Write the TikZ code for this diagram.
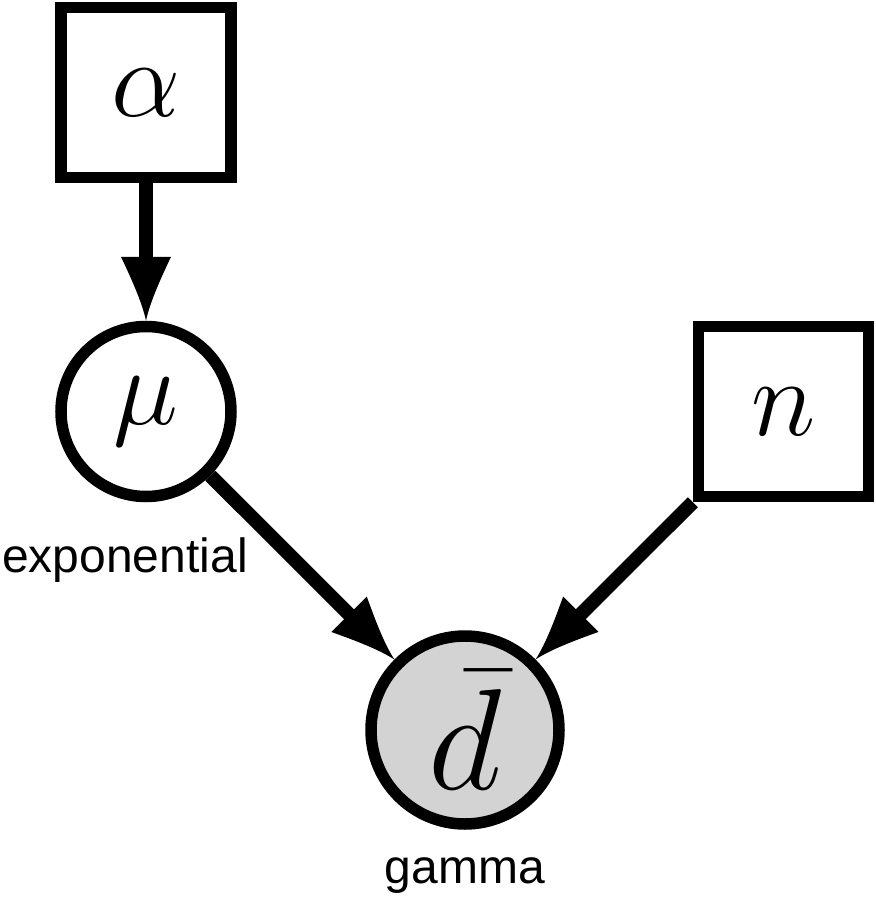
\RequirePackage{fix-cm}
\documentclass[tikz,border=0pt]{standalone}
\usepackage{fontspec}
\newfontfamily\lblfont{Liberation Sans}
\usetikzlibrary{arrows.meta}
\definecolor{obsgray}{RGB}{211,211,211}

% filled head with slightly hollow sides
\pgfdeclarearrow{
  name = Quill,
  parameters = {\the\pgfarrowlength,\the\pgfarrowwidth},
  setup code = {
    \pgfarrowssettipend{0pt}
    \pgfarrowssetlineend{-.6\pgfarrowlength}
    \pgfarrowssetvisualbackend{-\pgfarrowlength}
    \pgfarrowssetbackend{-\pgfarrowlength}
    \pgfarrowshullpoint{0pt}{0pt}
    \pgfarrowsupperhullpoint{-\pgfarrowlength}{.5\pgfarrowwidth}
    \pgfarrowssavethe\pgfarrowlength
    \pgfarrowssavethe\pgfarrowwidth
  },
  drawing code = {
    \pgfpathmoveto{\pgfqpoint{0pt}{0pt}}
    \pgfpathcurveto{\pgfqpoint{-.3\pgfarrowlength}{.08\pgfarrowwidth}}{\pgfqpoint{-.7\pgfarrowlength}{.32\pgfarrowwidth}}{\pgfqpoint{-\pgfarrowlength}{.5\pgfarrowwidth}}
    \pgfpathlineto{\pgfqpoint{-\pgfarrowlength}{-.5\pgfarrowwidth}}
    \pgfpathcurveto{\pgfqpoint{-.7\pgfarrowlength}{-.32\pgfarrowwidth}}{\pgfqpoint{-.3\pgfarrowlength}{-.08\pgfarrowwidth}}{\pgfqpoint{0pt}{0pt}}
    \pgfpathclose
    \pgfusepathqfill
  },
  defaults = {length=32pt, width=25pt}
}

\begin{document}
\begin{tikzpicture}[x=0.5pt,y=-0.5pt,
    box/.style={draw,line width=5.75pt,minimum size=85pt,inner sep=0pt,font=\fontsize{55}{60}\selectfont},
    var/.style={draw,circle,line width=5.75pt,minimum size=85pt,inner sep=0pt,font=\fontsize{55}{60}\selectfont},
    obs/.style={var,fill=obsgray,minimum size=94pt,font=\fontsize{72}{80}\selectfont},
    lbl/.style={font=\lblfont\fontsize{24}{28}\selectfont,inner sep=0pt,anchor=base},
    link/.style={line width=7pt,-{Quill}}]
    \useasboundingbox (0,0) rectangle (875,899);
    \node[box] (alpha) at (146,92.5) {$\alpha$};
    \node[var] (mu) at (146,411.5) {$\mu$};
    \node[box] (n) at (783.5,411.5) {$n$};
    \node[obs] (dbar) at (465,730) {$\bar{d}$};
    \node[lbl] (mulbl) at (125,572) {exponential};
    \node[lbl] (dlbl) at (465,883) {gamma};
    \draw[link] (alpha) -- (mu);
    \draw[link] (mu) -- (dbar);
    \draw[link] (n) -- (dbar);
\end{tikzpicture}
\end{document}
